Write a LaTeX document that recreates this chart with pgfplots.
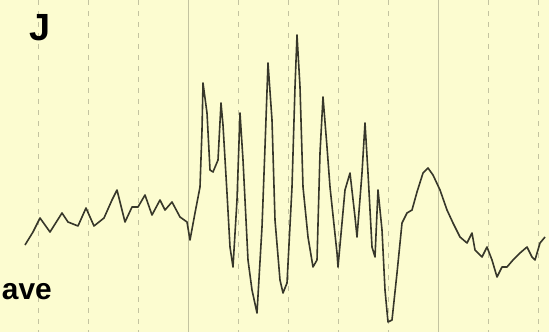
\documentclass[border=0pt]{standalone}
\usepackage{fontspec}
\setmainfont{Liberation Sans}
\usepackage{pgfplots}
\pgfplotsset{compat=1.18}
\definecolor{bg}{RGB}{252,252,208}
\definecolor{gridc}{RGB}{195,195,160}
\definecolor{trace}{RGB}{55,55,42}
\begin{document}
\begin{tikzpicture}[x=1bp,y=1bp]
\begin{axis}[
  name=ax,
  scale only axis,
  width=549bp, height=332bp,
  xmin=0, xmax=549, ymin=0, ymax=332,
  y dir=reverse,
  axis line style={draw=none},
  axis background/.style={fill=bg},
  xtick={38,88,138,238,288,338,388,488,538},
  ytick=\empty,
  xticklabel=\empty,
  major tick length=0pt,
  xmajorgrids,
  grid style={gridc, dash pattern=on 5bp off 6bp, line width=0.9bp},
  extra x ticks={188,438},
  extra x tick style={grid style={gridc, solid, line width=0.9bp}},
  extra x tick labels={},
  tick label style={inner sep=0pt},
  clip=false,
]
\addplot[trace, line width=1.6bp, line join=round] coordinates {
(25,245) (33,232) (40,218) (50,232) (62,213) (68,222) (78,226) (86,208)
(94,226) (104,218) (112,200) (117,190) (125,222) (132,207) (138,207)
(145,195) (152,215) (160,200) (165,210) (172,202) (180,217) (187,222)
(190,240) (195,213) (200,187) (202,130) (203,83) (207,113) (210,170)
(213,172) (218,160) (221,103) (223,125) (227,193) (230,247) (233,267)
(237,200) (240,113) (243,160) (248,260) (252,290) (257,313) (262,227)
(265,147) (268,63) (272,120) (275,220) (280,280) (283,293) (287,283)
(292,187) (295,87) (297,35) (300,87) (303,187) (308,237) (313,267)
(317,260) (320,153) (323,97) (327,147) (330,187) (337,253) (338,267)
(345,190) (350,173) (355,217) (357,237) (362,173) (365,123) (368,173)
(372,247) (375,257) (378,190) (382,230) (385,290) (388,322) (392,320)
(397,273) (402,223) (407,213) (412,210) (417,192) (423,173) (428,168)
(433,175) (440,190) (447,210) (453,223) (460,237) (467,243) (472,233)
(475,250) (482,257) (487,247) (492,260) (497,277) (502,267) (507,267)
(513,260) (520,253) (527,247) (532,257) (535,260) (540,243) (545,237)
};
\node[anchor=base west, inner sep=0pt, font=\bfseries\fontsize{38}{40}\selectfont] at (axis cs:29,40) {J};
\node[anchor=base east, inner sep=0pt, font=\bfseries\fontsize{30}{36}\selectfont] at (axis cs:52,299) {ave};
\end{axis}
\pgfresetboundingbox
\useasboundingbox (ax.south west) rectangle (ax.north east);
\end{tikzpicture}
\end{document}
